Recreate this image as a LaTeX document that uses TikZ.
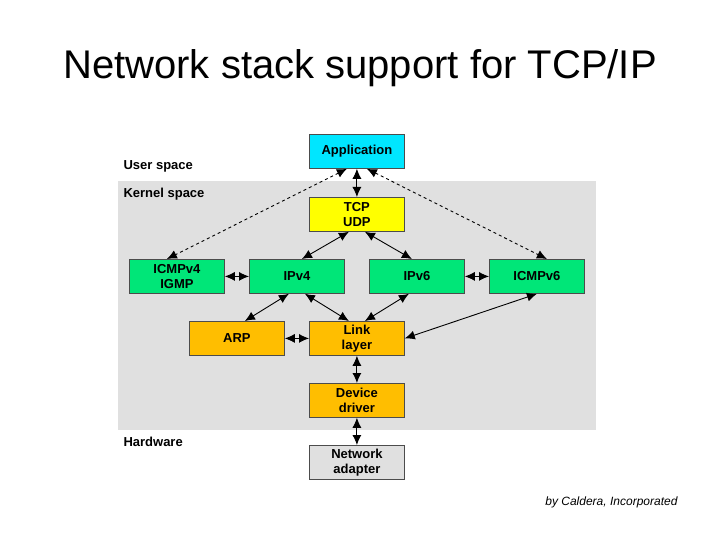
\documentclass[tikz,border=0pt]{standalone}
\usepackage{fontspec}
\setmainfont{Liberation Sans}
\usetikzlibrary{arrows.meta}
\definecolor{appc}{RGB}{0,230,255}
\definecolor{grn}{RGB}{0,230,120}
\definecolor{org}{RGB}{255,190,0}
\definecolor{yel}{RGB}{255,255,0}
\begin{document}
\begin{tikzpicture}[x=1pt,y=-1pt,
 box/.style={draw=black!70,line width=0.8pt,minimum width=95pt,minimum height=34pt,inner sep=0pt,align=center,font=\bfseries\fontsize{13}{15}\selectfont,anchor=north west},
 ar/.style={{Latex[length=10pt,width=9pt]}-{Latex[length=10pt,width=9pt]},line width=0.9pt},
 lab/.style={font=\bfseries\fontsize{13}{14}\selectfont,anchor=west}]
\useasboundingbox (0,0) rectangle (720,540);
\fill[black!12] (118,181) rectangle (596,430);
\node[font=\fontsize{40}{44}\selectfont] (title) at (360,68) {Network stack support for TCP/IP};
\node[lab] (us) at (120,166) {User space};
\node[lab] (ks) at (120,194) {Kernel space};
\node[lab] (hw) at (120,442) {Hardware};
\node[box,fill=appc] (app) at (309,134) {Application};
\node[box,fill=yel] (tcp) at (309,197) {TCP\\UDP};
\node[box,fill=grn] (icmp4) at (129,259) {ICMPv4\\IGMP};
\node[box,fill=grn] (ip4) at (249,259) {IPv4};
\node[box,fill=grn] (ip6) at (369,259) {IPv6};
\node[box,fill=grn] (icmp6) at (489,259) {ICMPv6};
\node[box,fill=org] (arp) at (189,321) {ARP};
\node[box,fill=org] (link) at (309,321) {Link\\layer};
\node[box,fill=org] (dev) at (309,383) {Device\\driver};
\node[box,fill=black!12] (nic) at (309,445) {Network\\adapter};
\node[font=\itshape\fontsize{12}{13}\selectfont,anchor=east] (cred) at (681,502) {by Caldera, Incorporated};
\draw[ar] (app) -- (tcp);
\draw[ar,dashed] ([xshift=-10pt]app.south) -- ([xshift=-10pt]icmp4.north);
\draw[ar,dashed] ([xshift=10pt]app.south) -- ([xshift=10pt]icmp6.north);
\draw[ar] ([xshift=-8pt]tcp.south) -- ([xshift=5pt]ip4.north);
\draw[ar] ([xshift=8pt]tcp.south) -- ([xshift=-5pt]ip6.north);
\draw[ar] (icmp4) -- (ip4);
\draw[ar] (ip6) -- (icmp6);
\draw[ar] ([xshift=-8pt]ip4.south) -- ([xshift=8pt]arp.north);
\draw[ar] ([xshift=8pt]ip4.south) -- ([xshift=-8pt]link.north);
\draw[ar] ([xshift=-8pt]ip6.south) -- ([xshift=8pt]link.north);
\draw[ar] (icmp6.south) -- (link.east);
\draw[ar] (arp) -- (link);
\draw[ar] (link) -- (dev);
\draw[ar] (dev) -- (nic);
\end{tikzpicture}
\end{document}
